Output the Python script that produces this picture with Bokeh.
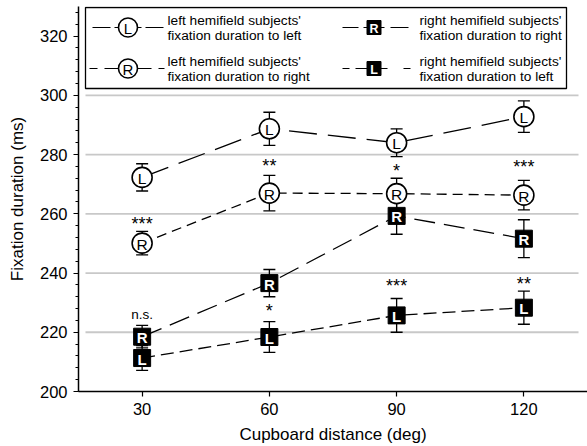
from bokeh.plotting import figure
from bokeh.models import Range1d, SingleIntervalTicker, FixedTicker, ColumnDataSource
from bokeh.core.properties import value
from bokeh.embed import file_html
from bokeh.resources import INLINE

# ---------------- data ----------------
distance = [30, 60, 90, 120]

lh_to_left = [272.3, 288.7, 284.0, 292.8]
lh_to_left_err = [4.6, 5.6, 4.7, 5.3]

lh_to_right = [250.1, 267.0, 266.8, 266.3]
lh_to_right_err = [4.0, 6.0, 5.2, 5.0]

rh_to_right = [218.5, 236.6, 259.3, 251.6]
rh_to_right_err = [3.8, 4.6, 6.2, 6.4]

rh_to_left = [211.3, 218.4, 225.7, 228.3]
rh_to_left_err = [4.2, 5.2, 5.7, 5.6]

star_x = [30, 60, 90, 120, 60, 90, 120]
star_y = [257.8, 277.4, 275.7, 277.0, 228.4, 237.0, 237.5]
star_text = ["***", "**", "*", "***", "*", "***", "**"]
ns_x = [30]
ns_y = [226.0]
ns_text = ["n.s."]

legend_labels = [
    ("left hemifield subjects'", "fixation duration to left"),
    ("left hemifield subjects'", "fixation duration to right"),
    ("right hemifield subjects'", "fixation duration to right"),
    ("right hemifield subjects'", "fixation duration to left"),
]

FONT = value("Liberation Sans")

W, H = 587, 446
LB, RB, TB, BB = 78, 0, 6, 55
FW, FH = W - LB - RB, H - TB - BB

p = figure(width=W, height=H, output_backend="svg", toolbar_location=None,
           x_range=Range1d(15, 135), y_range=Range1d(200, 330),
           min_border_left=LB, min_border_right=RB, min_border_top=TB, min_border_bottom=BB)
p.extra_x_ranges = {"px": Range1d(0, FW)}
p.extra_y_ranges = {"py": Range1d(FH, 0)}
p.outline_line_color = None
p.grid.visible = False
p.background_fill_color = "white"
p.border_fill_color = "white"

# axes
p.xaxis.ticker = FixedTicker(ticks=distance)
p.yaxis.ticker = SingleIntervalTicker(interval=20, num_minor_ticks=5)
for ax in (p.xaxis[0], p.yaxis[0]):
    ax.axis_line_color = "black"
    ax.axis_line_width = 1.5
    ax.major_tick_line_color = "black"
    ax.major_tick_line_width = 1.2
    ax.minor_tick_line_color = "black"
    ax.minor_tick_line_width = 1.0
    ax.major_tick_in = 0
    ax.major_tick_out = 5
    ax.minor_tick_in = 0
    ax.minor_tick_out = 3
    ax.major_label_text_font = "Liberation Sans"
    ax.major_label_text_font_size = "16.5px"
    ax.major_label_text_color = "black"
    ax.axis_label_text_font = "Liberation Sans"
    ax.axis_label_text_font_size = "17px"
    ax.axis_label_text_font_style = "normal"
    ax.axis_label_text_color = "black"
p.xaxis.minor_tick_line_color = None
p.xaxis.axis_label = "Cupboard distance (deg)"
p.yaxis.axis_label = "Fixation duration (ms)"
p.xaxis.major_label_standoff = 6
p.yaxis.major_label_standoff = 6
p.xaxis.axis_label_standoff = 7
p.yaxis.axis_label_standoff = 10

# horizontal grid lines (inset like the original)
grid_vals = [220, 240, 260, 280, 300]
p.segment(x0=7, x1=500, y0=grid_vals, y1=grid_vals, x_range_name="px",
          line_color="#c8c8c8", line_width=1.8)

series = [
    (lh_to_left, lh_to_left_err, "L", "circle", "28 11"),
    (lh_to_right, lh_to_right_err, "R", "circle", "10 6"),
    (rh_to_right, rh_to_right_err, "R", "square", "21 9"),
    (rh_to_left, rh_to_left_err, "L", "square", "13 6"),
]

for vals, err, letter, kind, dash in series:
    src = ColumnDataSource(dict(x=distance, y=vals,
                                lo=[v - e for v, e in zip(vals, err)],
                                hi=[v + e for v, e in zip(vals, err)]))
    p.line("x", "y", source=src, line_color="black", line_width=1.3, line_dash=dash)
    p.segment(x0="x", x1="x", y0="lo", y1="hi", source=src, line_color="black", line_width=1.3)
    p.scatter("x", "lo", source=src, marker="dash", size=12, line_color="black", line_width=1.3)
    p.scatter("x", "hi", source=src, marker="dash", size=12, line_color="black", line_width=1.3)

for vals, err, letter, kind, dash in series:
    src = ColumnDataSource(dict(x=distance, y=vals, t=[letter] * len(vals)))
    if kind == "circle":
        p.scatter("x", "y", source=src, marker="circle", size=20, fill_color="white",
                  line_color="black", line_width=1.6)
        p.text("x", "y", text="t", source=src, text_font=FONT, text_font_size="15.5px",
               text_align="center", text_baseline="middle", text_color="black", y_offset=1)
    else:
        p.scatter("x", "y", source=src, marker="square", size=17, fill_color="black",
                  line_color="black", line_width=1)
        p.text("x", "y", text="t", source=src, text_font=FONT, text_font_size="15px",
               text_font_style="bold", text_align="center", text_baseline="middle",
               text_color="white", y_offset=1)

# significance annotations
p.text(star_x, star_y, text=star_text, text_font=FONT, text_font_size="18px",
       text_align="center", text_baseline="middle", text_color="black", y_offset=4)
p.text(ns_x, ns_y, text=ns_text, text_font=FONT, text_font_size="13.5px",
       text_align="center", text_baseline="middle", text_color="black")

# ---------------- legend (frame pixel coordinates) ----------------
p.quad(left=7, right=488, top=1, bottom=82, x_range_name="px", y_range_name="py",
       fill_color="white", line_color="black", line_width=1.3)

leg_rows = [
    (49.5, 21, [(14, 32), (36, 63), (67, 85)], "circle", "L", 89, legend_labels[0]),
    (49.5, 62, [(11, 19), (26, 73), (80, 86)], "circle", "R", 89, legend_labels[1]),
    (295.5, 21, [(264, 280), (285, 306), (312, 330)], "square", "R", 341, legend_labels[2]),
    (295.5, 62, [(264, 271), (277, 309), (325, 332)], "square", "L", 341, legend_labels[3]),
]
for cx, cy, segs, kind, letter, tx, (l1, l2) in leg_rows:
    p.segment(x0=[s[0] for s in segs], x1=[s[1] for s in segs], y0=[cy] * len(segs),
              y1=[cy] * len(segs), x_range_name="px", y_range_name="py",
              line_color="black", line_width=1.2)
    if kind == "circle":
        p.scatter([cx], [cy], marker="circle", size=19, fill_color="white", line_color="black",
                  line_width=1.6, x_range_name="px", y_range_name="py")
        p.text([cx], [cy], text=[letter], text_font=FONT, text_font_size="15px",
               text_align="center", text_baseline="middle", text_color="black", y_offset=1,
               x_range_name="px", y_range_name="py")
    else:
        p.scatter([cx], [cy], marker="square", size=14, fill_color="black", line_color="black",
                  x_range_name="px", y_range_name="py")
        p.text([cx], [cy], text=[letter], text_font=FONT, text_font_size="12.5px",
               text_font_style="bold", text_align="center", text_baseline="middle",
               text_color="white", y_offset=1, x_range_name="px", y_range_name="py")
    p.text([tx, tx], [cy - 7.5, cy + 7.5], text=[l1, l2], text_font=FONT,
           text_font_size="13.7px", text_align="left", text_baseline="middle",
           text_color="black", x_range_name="px", y_range_name="py")

open("out.html", "w").write(file_html(p, INLINE))
